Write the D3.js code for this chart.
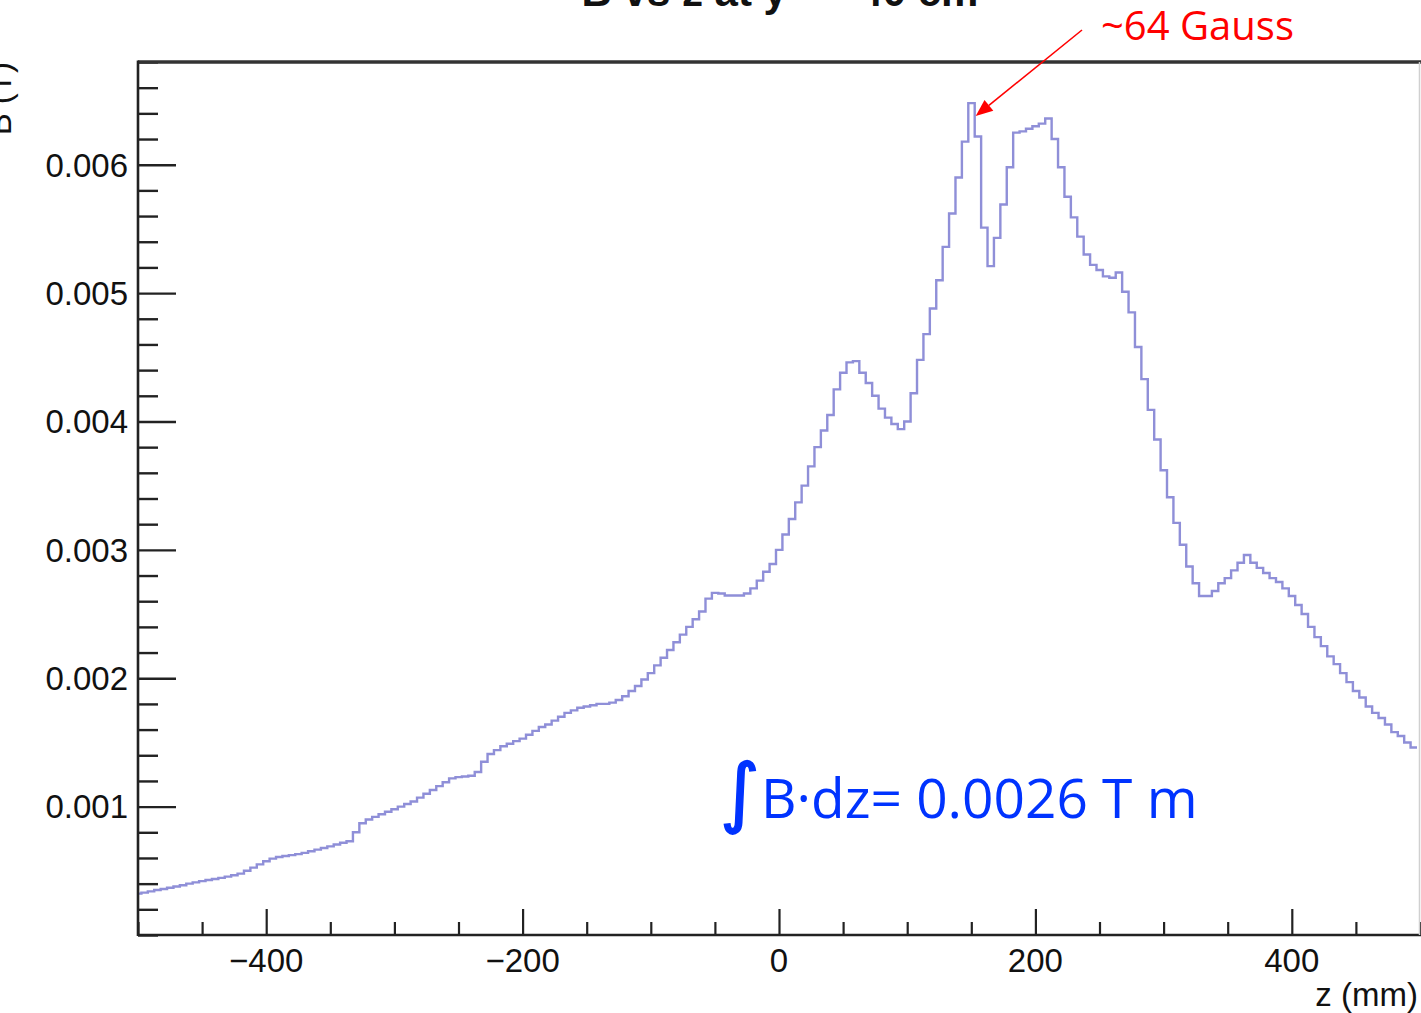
<!DOCTYPE html>
<html>
<head>
<meta charset="utf-8">
<script src="https://cdn.jsdelivr.net/npm/d3@7"></script>
<style>
  html, body { margin: 0; padding: 0; background: #fff; }
  svg { display: block; }
</style>
</head>
<body>
<svg id="chart" width="1421" height="1013"></svg>
<script>
// ---------------- data ----------------
const titleText = "B vs z at y = \u221240 cm";
const xLabel = "z (mm)";
const yLabel = "B (T)";
const xDomain = [-500, 500];
const yDomain = [0, 0.0068];
const binWidth = 5; // mm
const xTickValues = [-400, -200, 0, 200, 400];
const xTickLabels = ["\u2212400", "\u2212200", "0", "200", "400"];
const yTickValues = [0.001, 0.002, 0.003, 0.004, 0.005, 0.006];
const yTickLabels = ["0.001", "0.002", "0.003", "0.004", "0.005", "0.006"];
const peakNote = "~64 Gauss";
const integralNote = "B\u00B7dz= 0.0026 T m";

// B field per 5 mm bin, z from -500 to 500 mm (200 bins)
const bField = [
  // -500 .. -450
  0.000322, 0.000330, 0.000340, 0.000350, 0.000358, 0.000368, 0.000378, 0.000388, 0.000400, 0.000410,
  // -450 .. -400
  0.000420, 0.000428, 0.000436, 0.000445, 0.000455, 0.000465, 0.000478, 0.000500, 0.000525, 0.000550,
  // -400 .. -350
  0.000575, 0.000595, 0.000608, 0.000615, 0.000622, 0.000630, 0.000640, 0.000652, 0.000665, 0.000678,
  // -350 .. -300
  0.000690, 0.000705, 0.000718, 0.000730, 0.000800, 0.000870, 0.000900, 0.000920, 0.000940, 0.000960,
  // -300 .. -250
  0.000980, 0.001000, 0.001020, 0.001040, 0.001070, 0.001100, 0.001130, 0.001160, 0.001190, 0.001220,
  // -250 .. -200
  0.001230, 0.001235, 0.001240, 0.001270, 0.001350, 0.001410, 0.001440, 0.001470, 0.001490, 0.001510,
  // -200 .. -150
  0.001530, 0.001560, 0.001590, 0.001620, 0.001640, 0.001670, 0.001700, 0.001730, 0.001750, 0.001770,
  // -150 .. -100
  0.001780, 0.001790, 0.001800, 0.001800, 0.001810, 0.001830, 0.001860, 0.001900, 0.001940, 0.001990,
  // -100 .. -50
  0.002040, 0.002100, 0.002160, 0.002220, 0.002280, 0.002340, 0.002400, 0.002460, 0.002520, 0.002620,
  // -50 .. 0
  0.002665, 0.002660, 0.002645, 0.002645, 0.002645, 0.002660, 0.002700, 0.002760, 0.002830, 0.002890,
  // 0 .. 50
  0.003000, 0.003120, 0.003240, 0.003370, 0.003500, 0.003650, 0.003800, 0.003930, 0.004050, 0.004250,
  // 50 .. 100
  0.004380, 0.004460, 0.004470, 0.004380, 0.004300, 0.004200, 0.004100, 0.004030, 0.003980, 0.003940,
  // 100 .. 150
  0.004000, 0.004220, 0.004480, 0.004680, 0.004880, 0.005100, 0.005360, 0.005620, 0.005900, 0.006180,
  // 150 .. 200
  0.006480, 0.006220, 0.005510, 0.005210, 0.005430, 0.005690, 0.005980, 0.006250, 0.006260, 0.006280,
  // 200 .. 250
  0.006300, 0.006320, 0.006360, 0.006200, 0.005980, 0.005750, 0.005590, 0.005440, 0.005300, 0.005220,
  // 250 .. 300
  0.005180, 0.005130, 0.005120, 0.005160, 0.005010, 0.004850, 0.004580, 0.004330, 0.004090, 0.003860,
  // 300 .. 350
  0.003620, 0.003410, 0.003210, 0.003040, 0.002870, 0.002740, 0.002640, 0.002640, 0.002680, 0.002740,
  // 350 .. 400
  0.002780, 0.002840, 0.002900, 0.002960, 0.002900, 0.002860, 0.002820, 0.002780, 0.002750, 0.002700,
  // 400 .. 450
  0.002640, 0.002570, 0.002500, 0.002400, 0.002320, 0.002250, 0.002170, 0.002110, 0.002040, 0.001970,
  // 450 .. 500
  0.001900, 0.001850, 0.001780, 0.001730, 0.001690, 0.001640, 0.001580, 0.001550, 0.001500, 0.001460
];

// ---------------- layout ----------------
const svg = d3.select("#chart");
const W = 1421, H = 1013;
const plot = { left: 138, right: 1420, top: 62, bottom: 935 };

const x = d3.scaleLinear().domain(xDomain).range([plot.left, plot.right]);
const y = d3.scaleLinear().domain(yDomain).range([plot.bottom, plot.top]);

const tickFont = "'Liberation Sans', Arial, Helvetica, sans-serif";

// histogram line
const pts = bField.map((v, i) => [xDomain[0] + i * binWidth, v]);
pts.push([xDomain[1], bField[bField.length - 1]]);
const line = d3.line().x(d => x(d[0]) - 3).y(d => y(d[1])).curve(d3.curveStepAfter);

svg.append("defs").append("clipPath").attr("id", "plotclip")
  .append("rect").attr("x", plot.left).attr("y", plot.top)
  .attr("width", plot.right - plot.left).attr("height", plot.bottom - plot.top);

svg.append("path")
  .datum(pts)
  .attr("clip-path", "url(#plotclip)")
  .attr("d", line)
  .attr("fill", "none")
  .attr("stroke", "#8f8fd8")
  .attr("stroke-width", 2.4);

// ---------------- axes ----------------
const yAxis = d3.axisRight(y)
  .tickValues(d3.range(0, 0.00681, 0.0002).map(v => +v.toFixed(4)))
  .tickSizeOuter(0)
  .tickSizeInner(0)
  .tickFormat("");
const gy = svg.append("g").attr("transform", `translate(${plot.left},0)`).call(yAxis);
gy.select(".domain").remove();
gy.selectAll(".tick line")
  .attr("x2", d => (yTickValues.some(t => Math.abs(t - d) < 1e-9) ? 38 : 20))
  .attr("stroke", "#222")
  .attr("stroke-width", 2.4);
svg.selectAll(".ylab").data(yTickValues).enter().append("text")
  .attr("x", 128)
  .attr("y", d => y(d))
  .attr("dy", "0.36em")
  .attr("text-anchor", "end")
  .attr("font-family", tickFont)
  .attr("font-size", 33)
  .attr("fill", "#111")
  .text((d, i) => yTickLabels[i]);

const xAxis = d3.axisTop(x)
  .tickValues(d3.range(-500, 501, 50))
  .tickSizeOuter(0)
  .tickSizeInner(0)
  .tickFormat("");
const gx = svg.append("g").attr("transform", `translate(0,${plot.bottom})`).call(xAxis);
gx.select(".domain").remove();
gx.selectAll(".tick line")
  .attr("y2", d => (xTickValues.includes(d) ? -26 : -13))
  .attr("stroke", "#222")
  .attr("stroke-width", 2.2);
svg.selectAll(".xlab").data(xTickValues).enter().append("text")
  .attr("x", d => x(d))
  .attr("y", 972)
  .attr("text-anchor", "middle")
  .attr("font-family", tickFont)
  .attr("font-size", 33)
  .attr("fill", "#111")
  .text((d, i) => xTickLabels[i]);

// frame
svg.append("line").attr("x1", plot.left).attr("x2", W).attr("y1", plot.top).attr("y2", plot.top)
  .attr("stroke", "#333").attr("stroke-width", 3.5);
svg.append("line").attr("x1", plot.left).attr("x2", plot.left).attr("y1", plot.top - 1.5).attr("y2", plot.bottom + 1)
  .attr("stroke", "#222").attr("stroke-width", 2.6);
svg.append("line").attr("x1", plot.left).attr("x2", W).attr("y1", plot.bottom).attr("y2", plot.bottom)
  .attr("stroke", "#222").attr("stroke-width", 2.6);
svg.append("line").attr("x1", 1419.5).attr("x2", 1419.5).attr("y1", plot.top).attr("y2", plot.bottom)
  .attr("stroke", "#d0d0d0").attr("stroke-width", 1.5);

// title (cut off at top as in the reference)
svg.append("text")
  .attr("x", 780).attr("y", 6)
  .attr("text-anchor", "middle")
  .attr("font-family", tickFont)
  .attr("font-weight", "bold")
  .attr("font-size", 42)
  .attr("fill", "#111")
  .text(titleText);

// y label (rotated, cut at left as in the reference)
svg.append("text")
  .attr("transform", `translate(11,${plot.top}) rotate(-90)`)
  .attr("text-anchor", "end")
  .attr("font-family", tickFont)
  .attr("font-size", 33)
  .attr("fill", "#111")
  .text(yLabel);

// x label
svg.append("text")
  .attr("x", 1418).attr("y", 1006)
  .attr("text-anchor", "end")
  .attr("font-family", tickFont)
  .attr("font-size", 33)
  .attr("fill", "#111")
  .text(xLabel);

// ---------------- annotations ----------------
const noteFont = "'Open Sans', 'Noto Sans', sans-serif";
svg.append("text")
  .attr("x", 1101).attr("y", 40)
  .attr("font-family", noteFont)
  .attr("font-size", 40)
  .attr("fill", "#ff0000")
  .text(peakNote);

const peakIdx = bField.indexOf(d3.max(bField));
const tipX = x(xDomain[0] + (peakIdx + 1) * binWidth) - 2;
const tipY = y(bField[peakIdx]) + 13;
const startX = 1082, startY = 30;
const ang = Math.atan2(tipY - startY, tipX - startX);
const headLen = 17, headW = 7;
const bx = tipX - headLen * Math.cos(ang), by = tipY - headLen * Math.sin(ang);
svg.append("line")
  .attr("x1", startX).attr("y1", startY).attr("x2", bx).attr("y2", by)
  .attr("stroke", "#ff0000").attr("stroke-width", 1.6);
svg.append("path")
  .attr("d", `M${tipX},${tipY} L${bx + headW * Math.sin(ang)},${by - headW * Math.cos(ang)} L${bx - headW * Math.sin(ang)},${by + headW * Math.cos(ang)} Z`)
  .attr("fill", "#ff0000");

svg.append("text")
  .attr("x", 720).attr("y", 818)
  .attr("font-family", "'DejaVu Sans', sans-serif")
  .attr("font-size", 76)
  .attr("fill", "#0033ff")
  .attr("stroke", "#0033ff")
  .attr("stroke-width", 1.5)
  .text("\u222B");
svg.append("text")
  .attr("x", 761).attr("y", 818)
  .attr("font-family", noteFont)
  .attr("font-size", 55)
  .attr("fill", "#0033ff")
  .text(integralNote);
</script>
</body>
</html>
